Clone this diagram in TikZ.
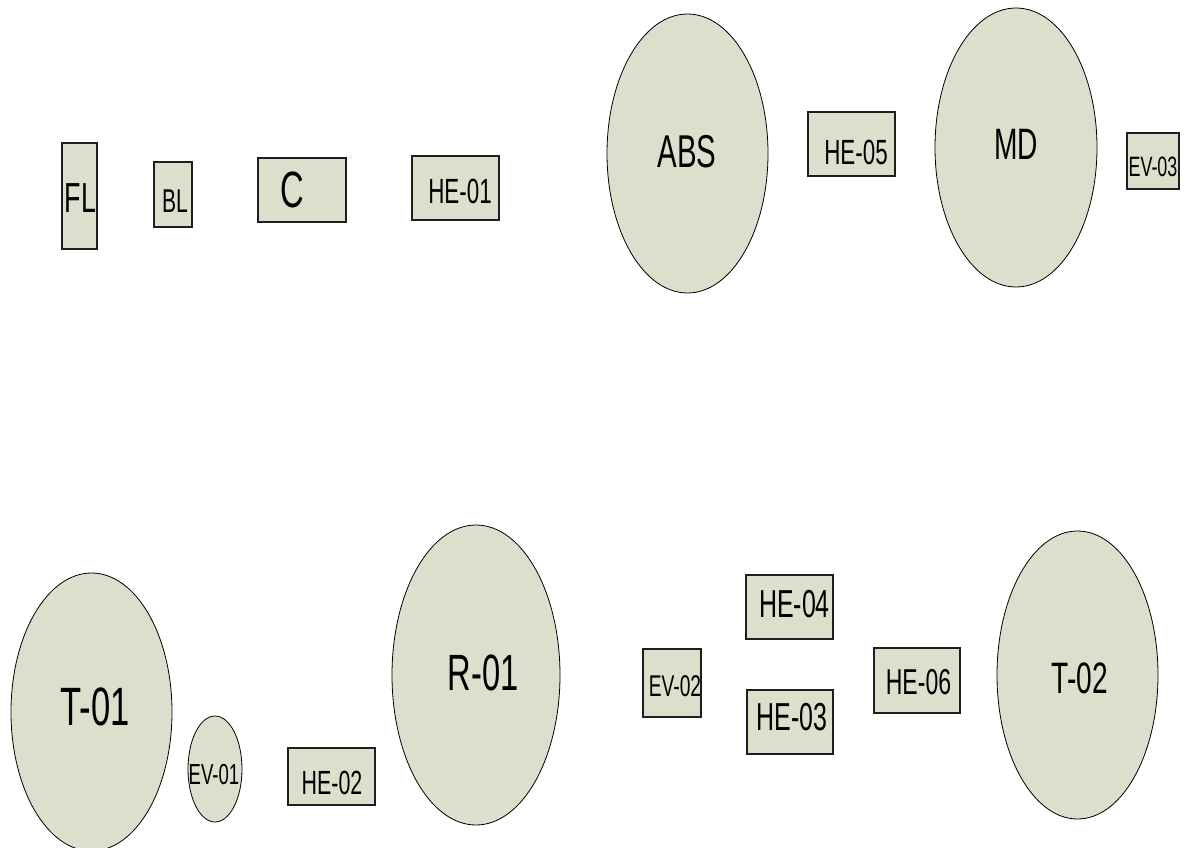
\documentclass[tikz,border=0pt]{standalone}
\usepackage{fontspec}
\newfontfamily\lblfont[FakeStretch=0.64]{Liberation Sans}
\usetikzlibrary{shapes.geometric}
\definecolor{unitfill}{RGB}{221,223,205}
\definecolor{unitline}{RGB}{30,30,30}
\tikzset{
  unitbox/.style={draw=unitline, line width=1.1pt, fill=unitfill, rectangle, inner sep=0pt},
  vessel/.style={draw=black, line width=0.8pt, fill=unitfill, ellipse, inner sep=0pt},
  tag/.style={inner sep=0pt, font=\lblfont\fontsize{#1}{#1}\selectfont}
}
\begin{document}
\begin{tikzpicture}[x=1pt, y=-1pt]
\useasboundingbox (0,0) rectangle (1188,848);

% upper train
\node[unitbox, minimum width=35pt, minimum height=106pt] (fl) at (79.5,196) {};
\node[tag=42] (fl-t) at (80.5,198) {FL};
\node[unitbox, minimum width=38pt, minimum height=65pt] (bl) at (173,194.5) {};
\node[tag=33] (bl-t) at (175,201) {BL};
\node[unitbox, minimum width=88pt, minimum height=64pt] (c) at (302,190) {};
\node[tag=51] (c-t) at (292,190) {C};
\node[unitbox, minimum width=87pt, minimum height=64pt] (he1) at (455.5,188) {};
\node[tag=35] (he1-t) at (460,191) {HE-01};
\node[vessel, minimum width=161pt, minimum height=279pt] (abs) at (687.5,153.5) {};
\node[tag=46] (abs-t) at (687,152) {ABS};
\node[unitbox, minimum width=87pt, minimum height=64pt] (he5) at (851.5,144) {};
\node[tag=35] (he5-t) at (856,152) {HE-05};
\node[vessel, minimum width=162pt, minimum height=279pt] (md) at (1016,147.5) {};
\node[tag=44] (md-t) at (1016,144) {MD};
\node[unitbox, minimum width=52pt, minimum height=56pt] (ev3) at (1153,161) {};
\node[tag=28] (ev3-t) at (1153,167) {EV-03};

% lower train
\node[vessel, minimum width=161pt, minimum height=278pt] (t1) at (91.5,712) {};
\node[tag=54] (t1-t) at (95,707) {T-01};
\node[vessel, minimum width=54pt, minimum height=106pt] (ev1) at (215,769) {};
\node[tag=29] (ev1-t) at (214,775) {EV-01};
\node[unitbox, minimum width=87pt, minimum height=57pt] (he2) at (331.5,776.5) {};
\node[tag=33.5] (he2-t) at (332,783) {HE-02};
\node[vessel, minimum width=168pt, minimum height=300pt] (r1) at (476,675) {};
\node[tag=51] (r1-t) at (483,673) {R-01};
\node[unitbox, minimum width=58pt, minimum height=68pt] (ev2) at (672,683) {};
\node[tag=30] (ev2-t) at (675,686) {EV-02};
\node[unitbox, minimum width=87pt, minimum height=64pt] (he4) at (789.5,607) {};
\node[tag=39] (he4-t) at (794.5,604.5) {HE-04};
\node[unitbox, minimum width=86pt, minimum height=64pt] (he3) at (790,722) {};
\node[tag=39] (he3-t) at (792,717) {HE-03};
\node[unitbox, minimum width=86pt, minimum height=65pt] (he6) at (917,680.5) {};
\node[tag=36] (he6-t) at (918.5,682) {HE-06};
\node[vessel, minimum width=161pt, minimum height=288pt] (t2) at (1077.5,675) {};
\node[tag=44] (t2-t) at (1080,678) {T-02};
\end{tikzpicture}
\end{document}
